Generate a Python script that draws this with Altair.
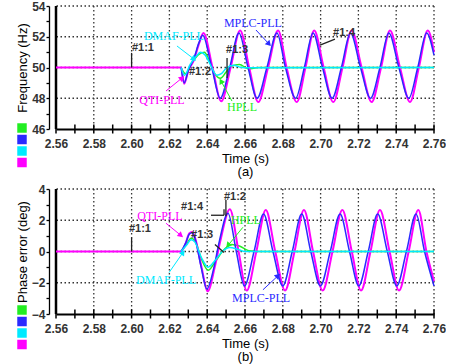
import math
import altair as alt
import pandas as pd

# ---------------- data ----------------
SERIES = ["HPLL", "MPLC-PLL", "DMAF-PLL", "QTI-PLL"]
COLORS = ["#22ee22", "#2a2aff", "#00eaff", "#ff00ff"]

X_TICKS = [2.56, 2.57, 2.58, 2.59, 2.60, 2.61, 2.62, 2.63, 2.64, 2.65, 2.66,
           2.67, 2.68, 2.69, 2.70, 2.71, 2.72, 2.73, 2.74, 2.75, 2.76]
X_GRID = [2.58, 2.60, 2.62, 2.64, 2.66, 2.68, 2.70, 2.72, 2.74, 2.76]
YF_TICKS = [46, 47, 48, 49, 50, 51, 52, 53, 54]
YF_GRID = [48, 50, 52, 54]
YP_TICKS = [-4, -3, -2, -1, 0, 1, 2, 3, 4]
YP_GRID = [-2, 0, 2, 4]

# (a) frequency (Hz)
qti_f_t = [2.560, 2.6262, 2.6278, 2.6300, 2.6330, 2.6358, 2.6380, 2.6428, 2.6474, 2.6524,
           2.6574, 2.6622, 2.6670, 2.6722, 2.6775, 2.6820, 2.6874, 2.6920, 2.6966, 2.7016,
           2.7067, 2.7116, 2.7164, 2.7217, 2.7270, 2.7320, 2.7367, 2.7420, 2.7473, 2.7520,
           2.7567, 2.7600]
qti_f_v = [50.0, 50.0, 48.95, 49.8, 50.5, 51.6, 52.25, 50.0, 47.8, 50.0,
           52.4, 50.0, 47.75, 50.0, 52.4, 50.0, 47.75, 50.0, 52.4, 50.0,
           47.75, 50.0, 52.4, 50.0, 47.75, 50.0, 52.4, 50.0, 47.75, 50.0,
           52.4, 51.0]
mplc_f_t = [2.6262, 2.6278, 2.6300, 2.6330, 2.6356, 2.6376, 2.6424, 2.6469, 2.6519,
            2.6568, 2.6616, 2.6664, 2.6716, 2.6769, 2.6814, 2.6868, 2.6914, 2.6960, 2.7010,
            2.7061, 2.7110, 2.7158, 2.7211, 2.7264, 2.7314, 2.7361, 2.7414, 2.7467, 2.7514,
            2.7561, 2.7600]
mplc_f_v = [50.0, 49.0, 49.8, 50.6, 51.6, 52.1, 50.0, 48.0, 50.0,
            52.25, 50.0, 48.0, 50.0, 52.25, 50.0, 48.0, 50.0, 52.25, 50.0,
            48.0, 50.0, 52.25, 50.0, 48.0, 50.0, 52.25, 50.0, 48.0, 50.0,
            52.25, 50.8]
dmaf_f_t = [2.6262, 2.6280, 2.6310, 2.6340, 2.6365, 2.6390, 2.6420, 2.6450, 2.6475,
            2.6500, 2.6540, 2.6580, 2.6620, 2.7600]
dmaf_f_v = [50.0, 49.5, 50.2, 50.7, 51.0, 50.8, 50.1, 49.5, 49.6,
            49.95, 50.15, 50.0, 49.98, 50.0]
hpll_f_t = [2.6262, 2.6285, 2.6320, 2.6350, 2.6385, 2.6410, 2.6440, 2.6470, 2.6500,
            2.6530, 2.6570, 2.6620, 2.6670, 2.7600]
hpll_f_v = [50.0, 49.6, 50.3, 50.8, 51.0, 50.5, 49.6, 49.3, 49.7,
            50.1, 50.2, 49.9, 50.0, 50.0]

# (b) phase error (deg)
qti_p_t = [2.560, 2.6262, 2.6285, 2.6305, 2.6320, 2.6335, 2.6370, 2.6402, 2.6440, 2.6470,
           2.6520, 2.6566, 2.6609, 2.6660, 2.6710, 2.6760, 2.6812, 2.6862, 2.6912, 2.6960,
           2.7011, 2.7063, 2.7115, 2.7165, 2.7214, 2.7264, 2.7314, 2.7365, 2.7415, 2.7466,
           2.7517, 2.7560, 2.7600]
qti_p_v = [0.0, 0.0, 0.5, 1.15, 1.25, 0.9, -1.0, -2.55, -1.0, 0.7,
           2.7, 0.0, -2.5, 0.0, 2.65, 0.0, -2.5, 0.0, 2.65, 0.0,
           -2.5, 0.0, 2.65, 0.0, -2.5, 0.0, 2.65, 0.0, -2.5, 0.0,
           2.65, 0.0, -1.9]
mplc_p_t = [2.6262, 2.6285, 2.6305, 2.6320, 2.6335, 2.6368, 2.6398, 2.6436, 2.6465,
            2.6510, 2.6554, 2.6597, 2.6648, 2.6698, 2.6748, 2.6800, 2.6850, 2.6900, 2.6948,
            2.6999, 2.7051, 2.7103, 2.7153, 2.7202, 2.7252, 2.7302, 2.7353, 2.7403, 2.7454,
            2.7505, 2.7550, 2.7600]
mplc_p_v = [0.0, 0.5, 1.1, 1.2, 0.85, -1.0, -2.4, -1.0, 0.7,
            2.45, 0.0, -2.2, 0.0, 2.4, 0.0, -2.2, 0.0, 2.4, 0.0,
            -2.2, 0.0, 2.4, 0.0, -2.2, 0.0, 2.4, 0.0, -2.2, 0.0,
            2.4, 0.0, -2.2]
dmaf_p_t = [2.6262, 2.6290, 2.6315, 2.6335, 2.6370, 2.6405, 2.6440, 2.6480, 2.6520,
            2.6560, 2.6600, 2.7600]
dmaf_p_v = [0.0, 0.4, 0.75, 0.6, -0.4, -1.0, -0.6, 0.0, 0.25, 0.15, 0.0, 0.0]
hpll_p_t = [2.6262, 2.6290, 2.6315, 2.6335, 2.6370, 2.6405, 2.6440, 2.6480, 2.6530,
            2.6570, 2.6620, 2.6680, 2.7600]
hpll_p_v = [0.0, 0.45, 0.85, 0.7, -0.5, -1.2, -0.7, 0.0, 0.45, 0.35, 0.05, 0.0, 0.0]

# annotations (data coordinates)
ann_a_series = ["DMAF-PLL", "QTI-PLL", "HPLL", "MPLC-PLL"]
ann_a_t = [2.6224, 2.6161, 2.6584, 2.6642]
ann_a_v = [52.05, 47.89, 47.43, 52.89]
arr_a_t1 = [2.6240, 2.6182, 2.6531, 2.6658]
arr_a_v1 = [51.40, 48.47, 47.82, 52.44]
arr_a_t2 = [2.6330, 2.6267, 2.6473, 2.6727]
arr_a_v2 = [50.55, 49.32, 49.12, 51.53]
mk_a_text = ["#1:1", "#1:2", "#1:3", "#1:4"]
mk_a_t = [2.6060, 2.6362, 2.6558, 2.7124]
mk_a_v = [51.25, 49.71, 51.14, 52.24]
seg_a_t1 = [2.600, 2.6505, 2.7076]
seg_a_v1 = [50.0, 49.32, 51.85]
seg_a_t2 = [2.600, 2.6505, 2.6997]
seg_a_v2 = [50.95, 50.62, 51.46]

ann_b_series = ["QTI-PLL", "DMAF-PLL", "HPLL", "MPLC-PLL"]
ann_b_t = [2.6150, 2.6182, 2.6605, 2.6685]
ann_b_v = [2.26, -1.81, 2.0, -2.97]
arr_b_t1 = [2.6182, 2.6198, 2.6589, 2.6695]
arr_b_v1 = [1.81, -1.35, 1.55, -2.45]
arr_b_t2 = [2.6261, 2.6272, 2.6510, 2.6775]
arr_b_v2 = [1.03, -0.06, 0.39, -1.55]
mk_b_text = ["#1:1", "#1:3", "#1:4", "#1:2"]
mk_b_t = [2.6044, 2.6373, 2.6320, 2.6547]
mk_b_v = [1.42, 1.03, 2.84, 3.48]
seg_b_t1 = [2.600, 2.6441, 2.6420, 2.6489, 2.6499]
seg_b_v1 = [0.0, 0.45, 2.32, 2.32, 3.29]
seg_b_t2 = [2.600, 2.6489, 2.6489, 2.6489, 2.6499]
seg_b_v2 = [0.9, -0.06, 2.32, 2.71, 2.26]

# ---------------- styling ----------------
SANS = "Liberation Sans"
SERIF = "Liberation Serif"
W = 378
HA, HB = 123, 125
color_scale = alt.Scale(domain=SERIES, range=COLORS)


def series_df(t, v, name):
    return pd.DataFrame({"t": t, "v": v, "series": name})


def arrow_angle(t1, v1, t2, v2, px_t, px_v):
    dx = (t2 - t1) * px_t
    dy = -(v2 - v1) * px_v
    return math.degrees(math.atan2(dx, -dy)) % 360


def panel(lines, ydom, yticks, ygrid, ytitle, xtitle, ann, arr, mk, seg, h, legend_y):
    px_t = W / 0.2
    px_v = h / (ydom[1] - ydom[0])
    xs = alt.Scale(domain=[2.56, 2.76], nice=False, zero=False)
    ys = alt.Scale(domain=ydom, nice=False, zero=False)
    common = dict(grid=False,
                  domainColor="black",
                  labelFont=SANS, labelFontSize=12, labelFontWeight="bold",
                  labelColor="#333", labelOverlap=False, labelFlush=False,
                  titleFont=SANS, titleFontSize=13, titleFontWeight="normal",
                  titleColor="black")
    xaxis = alt.Axis(values=X_TICKS, title=xtitle, ticks=False, domainWidth=2,
                     labelExpr="abs(round(datum.value*100) % 2) == 0 ? format(datum.value, '.2f') : ''",
                     labelPadding=9, titlePadding=3, titleLineHeight=13.5, **common)
    yaxis = alt.Axis(values=yticks, title=ytitle, ticks=True, tickSize=3, tickWidth=1.3,
                     tickColor="black", domainWidth=1.3, offset=7,
                     labelExpr="datum.value % 2 == 0 ? format(datum.value, 'd') : ''",
                     labelPadding=1, titlePadding=2, **common)

    def X(f):
        return alt.X(f, scale=xs, axis=xaxis)

    def Y(f):
        return alt.Y(f, scale=ys, axis=yaxis)

    layers = []
    # dotted grid
    gx = pd.DataFrame({"g": X_GRID})
    gy = pd.DataFrame({"g": ygrid})
    layers.append(alt.Chart(gx).mark_rule(color="#333", strokeWidth=1.3, strokeDash=[1.5, 2.5]).encode(
        x=X("g:Q")))
    layers.append(alt.Chart(gy).mark_rule(color="#333", strokeWidth=1.3, strokeDash=[1.5, 2.5]).encode(
        y=Y("g:Q")))

    # thick frame line on the left edge of the plot
    fx = pd.DataFrame({"g": [2.56]})
    layers.append(alt.Chart(fx).mark_rule(color="black", strokeWidth=2.5).encode(x=X("g:Q")))

    # crossing tick marks on the time axis
    tx = pd.DataFrame({"t": X_TICKS, "v": [ydom[0]] * len(X_TICKS)})
    layers.append(alt.Chart(tx).mark_tick(orient="vertical", size=9, thickness=1.5, color="black", opacity=1).encode(
        x=X("t:Q"), y=Y("v:Q")))

    for df, width in lines:
        layers.append(alt.Chart(df).mark_line(strokeWidth=width, interpolate="monotone").encode(
            x=X("t:Q"), y=Y("v:Q"),
            color=alt.Color("series:N", scale=color_scale, legend=None)))

    ann_df = pd.DataFrame({"t": ann[1], "v": ann[2], "series": ann[0]})
    layers.append(alt.Chart(ann_df).mark_text(font=SERIF, fontSize=12).encode(
        x=X("t:Q"), y=Y("v:Q"), text="series:N",
        color=alt.Color("series:N", scale=color_scale, legend=None)))

    arr_df = pd.DataFrame({"t1": arr[0], "v1": arr[1], "t2": arr[2], "v2": arr[3], "series": ann[0]})
    arr_df["ang"] = [arrow_angle(a, b, c, d, px_t, px_v) for a, b, c, d in
                     zip(arr[0], arr[1], arr[2], arr[3])]
    layers.append(alt.Chart(arr_df).mark_rule(strokeWidth=1).encode(
        x=X("t1:Q"), y=Y("v1:Q"), x2="t2:Q", y2="v2:Q",
        color=alt.Color("series:N", scale=color_scale, legend=None)))
    layers.append(alt.Chart(arr_df).mark_point(shape="triangle-up", filled=True, size=40, opacity=1).encode(
        x=X("t2:Q"), y=Y("v2:Q"),
        angle=alt.Angle("ang:Q", scale=None),
        color=alt.Color("series:N", scale=color_scale, legend=None)))

    seg_df = pd.DataFrame({"t1": seg[0], "v1": seg[1], "t2": seg[2], "v2": seg[3]})
    layers.append(alt.Chart(seg_df).mark_rule(strokeWidth=1.3, color="#222").encode(
        x=X("t1:Q"), y=Y("v1:Q"), x2="t2:Q", y2="v2:Q"))

    mk_df = pd.DataFrame({"t": mk[1], "v": mk[2], "label": mk[0]})
    layers.append(alt.Chart(mk_df).mark_text(font=SANS, fontSize=11, fontWeight="bold", color="#333").encode(
        x=X("t:Q"), y=Y("v:Q"), text="label:N"))

    leg_df = pd.DataFrame({"series": SERIES})
    layers.append(alt.Chart(leg_df).mark_square(opacity=0).encode(
        fill=alt.Fill("series:N", scale=alt.Scale(domain=SERIES, range=COLORS),
                      legend=alt.Legend(orient="none", legendX=-39, legendY=legend_y, title=None,
                                        symbolType="square", symbolSize=90, symbolStrokeWidth=0,
                                        symbolOpacity=1, labelExpr="''", labelFontSize=1,
                                        rowPadding=1.5, padding=0))))

    return alt.layer(*layers).properties(width=W, height=h)


top = panel(
    [(series_df(hpll_f_t, hpll_f_v, "HPLL"), 1.5),
     (series_df(qti_f_t, qti_f_v, "QTI-PLL"), 2),
     (series_df(mplc_f_t, mplc_f_v, "MPLC-PLL"), 1.5),
     (series_df(dmaf_f_t, dmaf_f_v, "DMAF-PLL"), 1.5)],
    [46, 54], YF_TICKS, YF_GRID, "Frequency (Hz)", ["Time (s)", "(a)"],
    (ann_a_series, ann_a_t, ann_a_v), (arr_a_t1, arr_a_v1, arr_a_t2, arr_a_v2),
    (mk_a_text, mk_a_t, mk_a_v), (seg_a_t1, seg_a_v1, seg_a_t2, seg_a_v2), HA, 117)

bottom = panel(
    [(series_df(hpll_p_t, hpll_p_v, "HPLL"), 1.5),
     (series_df(qti_p_t, qti_p_v, "QTI-PLL"), 2),
     (series_df(mplc_p_t, mplc_p_v, "MPLC-PLL"), 1.5),
     (series_df(dmaf_p_t, dmaf_p_v, "DMAF-PLL"), 1.5)],
    [-4, 4], YP_TICKS, YP_GRID, "Phase error (deg)", ["Time (s)", "(b)"],
    (ann_b_series, ann_b_t, ann_b_v), (arr_b_t1, arr_b_v1, arr_b_t2, arr_b_v2),
    (mk_b_text, mk_b_t, mk_b_v), (seg_b_t1, seg_b_v1, seg_b_t2, seg_b_v2), HB, 116)

chart = alt.vconcat(top, bottom, spacing=4).resolve_scale(
    fill="independent").resolve_legend(fill="independent").properties(
    padding={"left": 16, "top": 0, "right": 0, "bottom": 0},
    background="white"
).configure_view(stroke=None)

chart.save("out.html", embed_options={"renderer": "svg", "actions": False})
